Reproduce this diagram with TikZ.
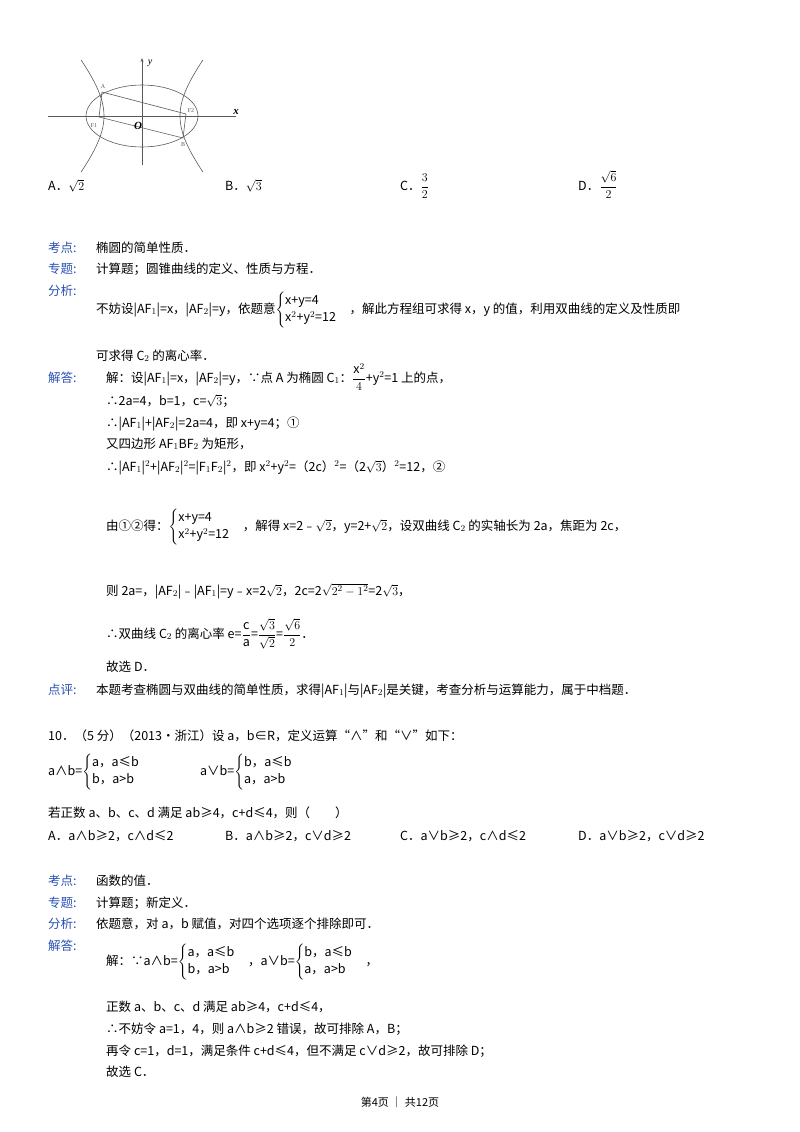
\documentclass[tikz,border=0pt]{standalone}
\usepackage{fontspec}
\usepackage{amsmath}
\setmainfont{Noto Sans CJK SC}
\newfontfamily\ser{Liberation Serif}
\usetikzlibrary{arrows.meta}
\definecolor{lab}{RGB}{40,80,180}
\begin{document}
\begin{tikzpicture}[x=1pt,y=-1pt,
  t/.style={anchor=base west,inner sep=0pt,font=\fontsize{12.5}{14}\selectfont},
  lb/.style={t,text=lab},
  sm/.style={inner sep=0pt,font=\ser\fontsize{6}{7}\selectfont,text=gray!70!black}]
\useasboundingbox[fill=white] (0,0) rectangle (800,1132);
% figure
\begin{scope}[gray!70!black,line width=0.6pt]
\draw (48,116) -- (236,116) coordinate (xe);
\draw[-{Stealth[length=4pt]}] (142,165) -- (142,58);
\draw (142,116) ellipse [x radius=56,y radius=31];
\draw[domain=-1.05:1.05,smooth,samples=30] plot ({142-38*cosh(\x)},{116-44.7*sinh(\x)});
\draw[domain=-1.05:1.05,smooth,samples=30] plot ({142+38*cosh(\x)},{116-44.7*sinh(\x)});
\coordinate (A) at (102,92); \coordinate (F1) at (99,117);
\coordinate (B) at (183,138); \coordinate (F2) at (186,114);
\draw (A) -- (F2) -- (B) -- (F1) -- (A);
\end{scope}
\node[inner sep=0, font=\ser\bfseries\itshape\fontsize{11}{12}\selectfont] (xl) at (236,112) {x};
\node[inner sep=0, font=\ser\itshape\fontsize{10}{12}\selectfont] (yl) at (150,63) {y};
\node[inner sep=0, font=\ser\bfseries\itshape\fontsize{11}{12}\selectfont] (ol) at (138,126) {O};
\node[sm] (al) at (103,87) {A};
\node[sm] (f1l) at (94,126) {F1};
\node[sm] (f2l) at (191,111) {F2};
\node[sm] (bl) at (183,145) {B};
% options
\node[t] (o1) at (48,190) {A．$\sqrt{2}$};
\node[t] (o2) at (225,190) {B．$\sqrt{3}$};
\node[t] (o3) at (400,190) {C．$\dfrac{3}{2}$};
\node[t] (o4) at (578,190) {D．$\dfrac{\sqrt{6}}{2}$};
% solution 9
\node[lb] (k1) at (48,252) {考点:};
\node[t] (k1t) at (96,252) {椭圆的简单性质．};
\node[lb] (z1) at (48,273) {专题:};
\node[t] (z1t) at (96,273) {计算题；圆锥曲线的定义、性质与方程．};
\node[lb] (f1) at (48,295) {分析:};
\node[t] (f1t) at (96,313) {不妨设|AF$_1$|=x，|AF$_2$|=y，依题意$\begin{cases}\text{x+y=4}\\ \text{x}^2\text{+y}^2\text{=12}\end{cases}$，解此方程组可求得 x，y 的值，利用双曲线的定义及性质即};
\node[t] (f1u) at (96,360) {可求得 C$_2$ 的离心率．};
\node[lb] (j1) at (48,382) {解答:};
\node[t] (j1a) at (106,382) {解：设|AF$_1$|=x，|AF$_2$|=y，∵点 A 为椭圆 C$_1$：$\dfrac{\text{x}^2}{4}$+y$^2$=1 上的点，};
\node[t] (j1b) at (106,405) {∴2a=4，b=1，c=$\sqrt{3}$；};
\node[t] (j1c) at (106,427) {∴|AF$_1$|+|AF$_2$|=2a=4，即 x+y=4；①};
\node[t] (j1d) at (106,448) {又四边形 AF$_1$BF$_2$ 为矩形，};
\node[t] (j1e) at (106,471) {∴|AF$_1$|$^2$+|AF$_2$|$^2$=|F$_1$F$_2$|$^2$，即 x$^2$+y$^2$=（2c）$^2$=（2$\sqrt{3}$）$^2$=12，②};
\node[t] (j1f) at (106,530) {由①②得：$\begin{cases}\text{x+y=4}\\ \text{x}^2\text{+y}^2\text{=12}\end{cases}$，解得 x=2﹣$\sqrt{2}$，y=2+$\sqrt{2}$，设双曲线 C$_2$ 的实轴长为 2a，焦距为 2c，};
\node[t] (j1g) at (106,595) {则 2a=，|AF$_2$|﹣|AF$_1$|=y﹣x=2$\sqrt{2}$，2c=2$\sqrt{2^2-1^2}$=2$\sqrt{3}$，};
\node[t] (j1h) at (106,638) {∴双曲线 C$_2$ 的离心率 e=$\dfrac{\text{c}}{\text{a}}$=$\dfrac{\sqrt{3}}{\sqrt{2}}$=$\dfrac{\sqrt{6}}{2}$．};
\node[t] (j1i) at (106,671) {故选 D．};
\node[lb] (d1) at (48,694) {点评:};
\node[t] (d1t) at (96,694) {本题考查椭圆与双曲线的简单性质，求得|AF$_1$|与|AF$_2$|是关键，考查分析与运算能力，属于中档题．};
% problem 10
\node[t] (p10) at (48,740) {10．（5 分）（2013•浙江）设 a，b∈R，定义运算“∧”和“∨”如下：};
\node[t] (p10a) at (48,775) {a∧b=$\begin{cases}\text{a，a≤b}\\ \text{b，a>b}\end{cases}$};
\node[t] (p10b) at (200,775) {a∨b=$\begin{cases}\text{b，a≤b}\\ \text{a，a>b}\end{cases}$};
\node[t] (p10c) at (48,817) {若正数 a、b、c、d 满足 ab≥4，c+d≤4，则（　　）};
\node[t] (q1) at (48,840) {A．a∧b≥2，c∧d≤2};
\node[t] (q2) at (225,840) {B．a∧b≥2，c∨d≥2};
\node[t] (q3) at (400,840) {C．a∨b≥2，c∧d≤2};
\node[t] (q4) at (578,840) {D．a∨b≥2，c∨d≥2};
\node[lb] (k2) at (48,885) {考点:};
\node[t] (k2t) at (96,885) {函数的值．};
\node[lb] (z2) at (48,907) {专题:};
\node[t] (z2t) at (96,907) {计算题；新定义．};
\node[lb] (f2) at (48,928) {分析:};
\node[t] (f2t) at (96,928) {依题意，对 a，b 赋值，对四个选项逐个排除即可．};
\node[lb] (j2) at (48,950) {解答:};
\node[t] (j2a) at (106,965) {解：∵a∧b=$\begin{cases}\text{a，a≤b}\\ \text{b，a>b}\end{cases}$，a∨b=$\begin{cases}\text{b，a≤b}\\ \text{a，a>b}\end{cases}$，};
\node[t] (j2b) at (106,1011) {正数 a、b、c、d 满足 ab≥4，c+d≤4，};
\node[t] (j2c) at (106,1033) {∴不妨令 a=1，4，则 a∧b≥2 错误，故可排除 A，B；};
\node[t] (j2d) at (106,1055) {再令 c=1，d=1，满足条件 c+d≤4，但不满足 c∨d≥2，故可排除 D；};
\node[t] (j2e) at (106,1076) {故选 C．};
\node[inner sep=0,font=\fontsize{11}{12}\selectfont] (ft) at (400,1102) {第4页 ｜ 共12页};
\end{tikzpicture}
\end{document}
